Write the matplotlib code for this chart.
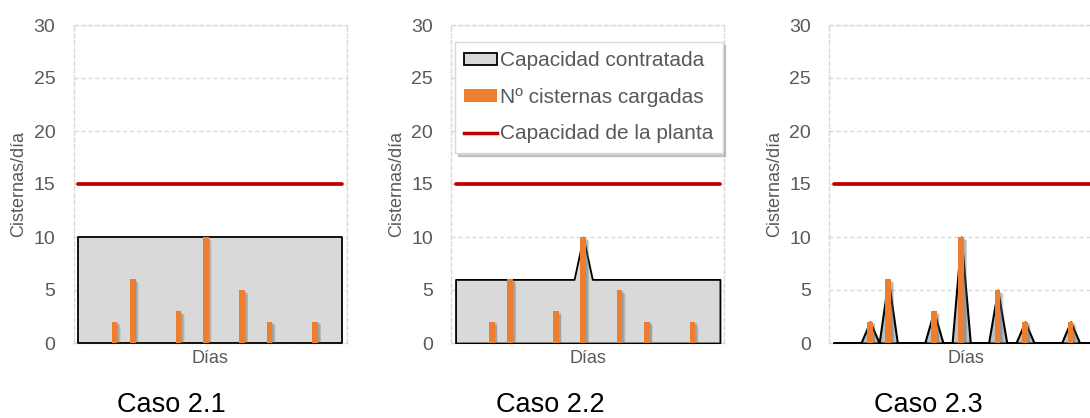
import matplotlib
matplotlib.use("Agg")
import matplotlib.pyplot as plt
from matplotlib.patches import Rectangle
from matplotlib.lines import Line2D

plt.rcParams['font.family'] = ['Liberation Sans', 'DejaVu Sans']

# ---------------- data ----------------
dias = list(range(1, 31))
cargadas = [0, 0, 0, 0, 2, 0, 6, 0, 0, 0, 0, 3, 0, 0, 10, 0, 0, 0, 5, 0,
            0, 2, 0, 0, 0, 0, 2, 0, 0, 0]
capacidad_21 = [10, 10, 10, 10, 10, 10, 10, 10, 10, 10, 10, 10, 10, 10, 10,
                10, 10, 10, 10, 10, 10, 10, 10, 10, 10, 10, 10, 10, 10, 10]
capacidad_22 = [6, 6, 6, 6, 6, 6, 6, 6, 6, 6, 6, 6, 6, 6, 10,
                6, 6, 6, 6, 6, 6, 6, 6, 6, 6, 6, 6, 6, 6, 6]
capacidad_23 = [0, 0, 0, 0, 2, 0, 6, 0, 0, 0, 0, 3, 0, 0, 10, 0, 0, 0, 5, 0,
                0, 2, 0, 0, 0, 0, 2, 0, 0, 0]
capacidad_planta = 15
casos = ["Caso 2.1", "Caso 2.2", "Caso 2.3"]
y_ticks = [0, 5, 10, 15, 20, 25, 30]
legend_labels = ["Capacidad contratada", "Nº cisternas cargadas", "Capacidad de la planta"]

ORANGE = "#ED7D31"
RED = "#C00000"
GRID = "#D9D9D9"
TXT = "#595959"

W, H = 1090, 418
fig = plt.figure(figsize=(W / 100, H / 100), dpi=100)

lefts = [73.5, 451, 829]
ax_w = 273.5
top, bot = 25, 343
caso_x = [171.5, 550, 928]
area_fill = ["#D9D9D9", "#D9D9D9", "#BFBFBF"]
area_lw = [1.3, 1.3, 1.5]
capacidades = [capacidad_21, capacidad_22, capacidad_23]

for i in range(3):
    ax = fig.add_axes([lefts[i] / W, 1 - bot / H, ax_w / W, (bot - top) / H])
    x = list(range(len(dias)))
    ax.set_xlim(-0.5, len(dias) - 0.5)
    ax.set_ylim(0, 30)
    ax.set_yticks(y_ticks)
    ax.set_xticks([])
    ax.tick_params(axis='y', length=0, pad=13, labelsize=14, labelcolor=TXT)
    for s in ax.spines.values():
        s.set_color(GRID)
        s.set_linestyle((0, (3, 2)))
        s.set_linewidth(1)
        s.set_zorder(0.5)
    ax.yaxis.grid(True, color=GRID, linestyle=(0, (3, 2)), linewidth=1)
    ax.set_axisbelow(True)

    ax.fill_between(x, 0, capacidades[i], facecolor=area_fill[i],
                    edgecolor="black", linewidth=area_lw[i], zorder=2)
    # bar shadows
    xs = [xx for xx, v in zip(x, cargadas) if v > 0]
    vs = [v for v in cargadas if v > 0]
    for k, (off, a) in enumerate([(0.22, 0.25), (0.3, 0.18), (0.38, 0.1)]):
        ax.bar([xx + off for xx in xs], [max(v - 0.15 - 0.1 * k, 0) for v in vs],
               width=0.6, color="#606060", alpha=a, linewidth=0, zorder=3)
    ax.bar(x, cargadas, width=0.62, color=ORANGE, linewidth=0, zorder=4)
    ax.plot([0, len(dias) - 1], [capacidad_planta, capacidad_planta], color=RED,
            linewidth=2.7, solid_capstyle='round', zorder=5)

    ax.text(-54.5 / ax_w, 0.5, "Cisternas/día", rotation=90, transform=ax.transAxes,
            ha='center', va='center', fontsize=13, color=TXT)
    ax.text(0.5, -20 / (bot - top), "Días", transform=ax.transAxes,
            ha='center', va='baseline', fontsize=13, color=TXT)
    fig.text(caso_x[i] / W, 1 - 412 / H, casos[i], ha='center', va='baseline',
             fontsize=19.5, color='black')

    if i == 1:
        handles = [Rectangle((0, 0), 1, 1, facecolor="#D9D9D9", edgecolor="black", linewidth=1.3),
                   Rectangle((0, 0), 1, 1, facecolor=ORANGE, edgecolor="none"),
                   Line2D([0], [0], color=RED, linewidth=2.5)]
        leg = ax.legend(handles, legend_labels, loc='upper left',
                        bbox_to_anchor=((455 - lefts[i]) / ax_w, (bot - 42) / (bot - top)),
                        borderaxespad=0, fontsize=15, frameon=True, fancybox=False,
                        edgecolor=GRID, facecolor='white', framealpha=1,
                        shadow={'color': '#999999', 'alpha': 0.5, 'ox': 2, 'oy': -2},
                        handlelength=1.55, handleheight=0.55, handletextpad=0.15,
                        borderpad=0.45, labelspacing=0.84, labelcolor=TXT)
        leg.set_zorder(10)

fig.savefig("out.png", dpi=100)
